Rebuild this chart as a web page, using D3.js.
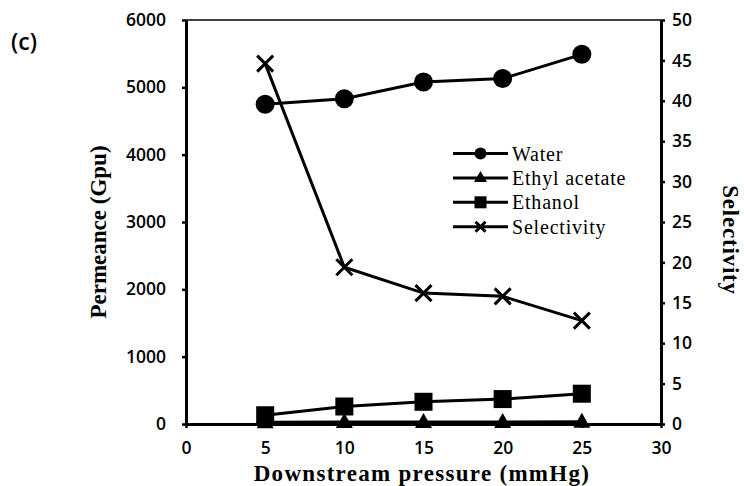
<!DOCTYPE html>
<html>
<head>
<meta charset="utf-8">
<script src="https://cdn.jsdelivr.net/npm/d3@7/dist/d3.min.js"></script>
<style>
  html, body { margin: 0; padding: 0; background: #fff; }
  svg { display: block; }
</style>
</head>
<body>
<svg id="chart" width="744" height="486"></svg>
<script>
// Downstream pressure (mmHg)
const pressure = [5, 10, 15, 20, 25];
// Permeance (Gpu)
const water = [4750, 4830, 5080, 5130, 5490];
const ethylAcetate = [25, 30, 30, 30, 35];
const ethanol = [130, 260, 330, 370, 450];
// Selectivity (right axis)
const selectivity = [44.6, 19.4, 16.2, 15.8, 12.8];

const xTicks = [0, 5, 10, 15, 20, 25, 30];
const yLeftTicks = [0, 1000, 2000, 3000, 4000, 5000, 6000];
const yRightTicks = [0, 5, 10, 15, 20, 25, 30, 35, 40, 45, 50];
const legendNames = ["Water", "Ethyl acetate", "Ethanol", "Selectivity"];

(function () {
const svg = d3.select("#chart");
const pLeft = 186, pRight = 661, pTop = 20, pBottom = 424;

const x = d3.scaleLinear().domain([0, 30]).range([pLeft, pRight]);
const yL = d3.scaleLinear().domain([0, 6000]).range([pBottom, pTop]);
const yR = d3.scaleLinear().domain([0, 50]).range([pBottom, pTop]);

const tickFont = "'Open Sans', 'DejaVu Sans', sans-serif";
const serif = "'Liberation Serif', 'DejaVu Serif', serif";

// top frame line
svg.append("line").attr("x1", pLeft).attr("x2", pRight).attr("y1", pTop).attr("y2", pTop)
  .attr("stroke", "#000").attr("stroke-width", 1.5);

function styleAxis(g) {
  g.select(".domain").attr("stroke", "#000").attr("stroke-width", 3);
  g.selectAll(".tick line").attr("stroke", "#000").attr("stroke-width", 2.5);
  g.selectAll(".tick text").attr("font-family", tickFont).attr("font-size", 17.5)
    .attr("fill", "#000").attr("font-weight", "600");
}

const axL = svg.append("g").attr("transform", `translate(${pLeft},0)`)
  .call(d3.axisLeft(yL).tickValues(yLeftTicks).tickSize(4).tickSizeOuter(0).tickPadding(16).tickFormat(d3.format("d")));
styleAxis(axL);

const axR = svg.append("g").attr("transform", `translate(${pRight},0)`)
  .call(d3.axisRight(yR).tickValues(yRightTicks).tickSize(4).tickSizeOuter(0).tickPadding(7).tickFormat(d3.format("d")));
styleAxis(axR);

const axB = svg.append("g").attr("transform", `translate(0,${pBottom})`)
  .call(d3.axisBottom(x).tickValues(xTicks).tickSize(4).tickSizeOuter(0).tickPadding(14).tickFormat(d3.format("d")));
styleAxis(axB);

// axis titles
svg.append("text").attr("transform", `translate(106,232) rotate(-90)`)
  .attr("text-anchor", "middle").attr("font-family", serif).attr("font-weight", "bold")
  .attr("font-size", 23).text("Permeance (Gpu)");
svg.append("text").attr("x", 422).attr("y", 481)
  .attr("text-anchor", "middle").attr("font-family", serif).attr("font-weight", "bold")
  .attr("font-size", 23).attr("letter-spacing", 1.3).text("Downstream pressure (mmHg)");
svg.append("text").attr("transform", `translate(723,240) rotate(90)`)
  .attr("text-anchor", "middle").attr("font-family", serif).attr("font-weight", "bold")
  .attr("font-size", 23).attr("letter-spacing", 0.8).text("Selectivity");

svg.append("text").attr("x", 11).attr("y", 50).attr("font-family", tickFont)
  .attr("font-size", 23).attr("font-weight", "600").text("(c)");

// marker drawers
const markers = {
  circle: (g, cx, cy) => g.append("circle").attr("cx", cx).attr("cy", cy).attr("r", 9.5).attr("fill", "#000"),
  triangle: (g, cx, cy) => g.append("path")
    .attr("d", `M${cx},${cy - 9}L${cx + 8.5},${cy + 6}L${cx - 8.5},${cy + 6}Z`).attr("fill", "#000"),
  square: (g, cx, cy) => g.append("rect").attr("x", cx - 9).attr("y", cy - 9)
    .attr("width", 18).attr("height", 18).attr("fill", "#000"),
  cross: (g, cx, cy) => g.append("path")
    .attr("d", `M${cx - 8},${cy - 8}L${cx + 8},${cy + 8}M${cx + 8},${cy - 8}L${cx - 8},${cy + 8}`)
    .attr("stroke", "#000").attr("stroke-width", 3).attr("fill", "none")
};

const series = [
  { values: water, y: yL, marker: "circle" },
  { values: ethylAcetate, y: yL, marker: "triangle" },
  { values: ethanol, y: yL, marker: "square" },
  { values: selectivity, y: yR, marker: "cross" }
];

const plot = svg.append("g");
series.forEach(s => {
  const line = d3.line().x((d, i) => x(pressure[i])).y(d => s.y(d));
  plot.append("path").datum(s.values).attr("d", line)
    .attr("fill", "none").attr("stroke", "#000").attr("stroke-width", 3);
});
series.forEach(s => {
  s.values.forEach((v, i) => markers[s.marker](plot, x(pressure[i]), s.y(v)));
});

// legend
const lg = svg.append("g");
const lgX0 = 453, lgX1 = 508, lgY0 = 153.5, lgStep = 24.4;
legendNames.forEach((name, i) => {
  const yy = lgY0 + i * lgStep;
  const cx = (lgX0 + lgX1) / 2;
  lg.append("line").attr("x1", lgX0).attr("x2", lgX1).attr("y1", yy).attr("y2", yy)
    .attr("stroke", "#000").attr("stroke-width", 3);
  const m = series[i].marker;
  if (m === "circle") lg.append("circle").attr("cx", cx).attr("cy", yy).attr("r", 6).attr("fill", "#000");
  else if (m === "triangle") lg.append("path").attr("d", `M${cx},${yy - 7}L${cx + 6.5},${yy + 4}L${cx - 6.5},${yy + 4}Z`).attr("fill", "#000");
  else if (m === "square") lg.append("rect").attr("x", cx - 6).attr("y", yy - 6).attr("width", 12).attr("height", 12).attr("fill", "#000");
  else lg.append("path").attr("d", `M${cx - 5},${yy - 5}L${cx + 5},${yy + 5}M${cx + 5},${yy - 5}L${cx - 5},${yy + 5}`).attr("stroke", "#000").attr("stroke-width", 3);
  lg.append("text").attr("x", lgX1 + 4).attr("y", yy + 7).attr("font-family", serif)
    .attr("font-size", 20).attr("letter-spacing", 0.8).attr("fill", "#000").text(name);
});
})();
</script>
</body>
</html>
